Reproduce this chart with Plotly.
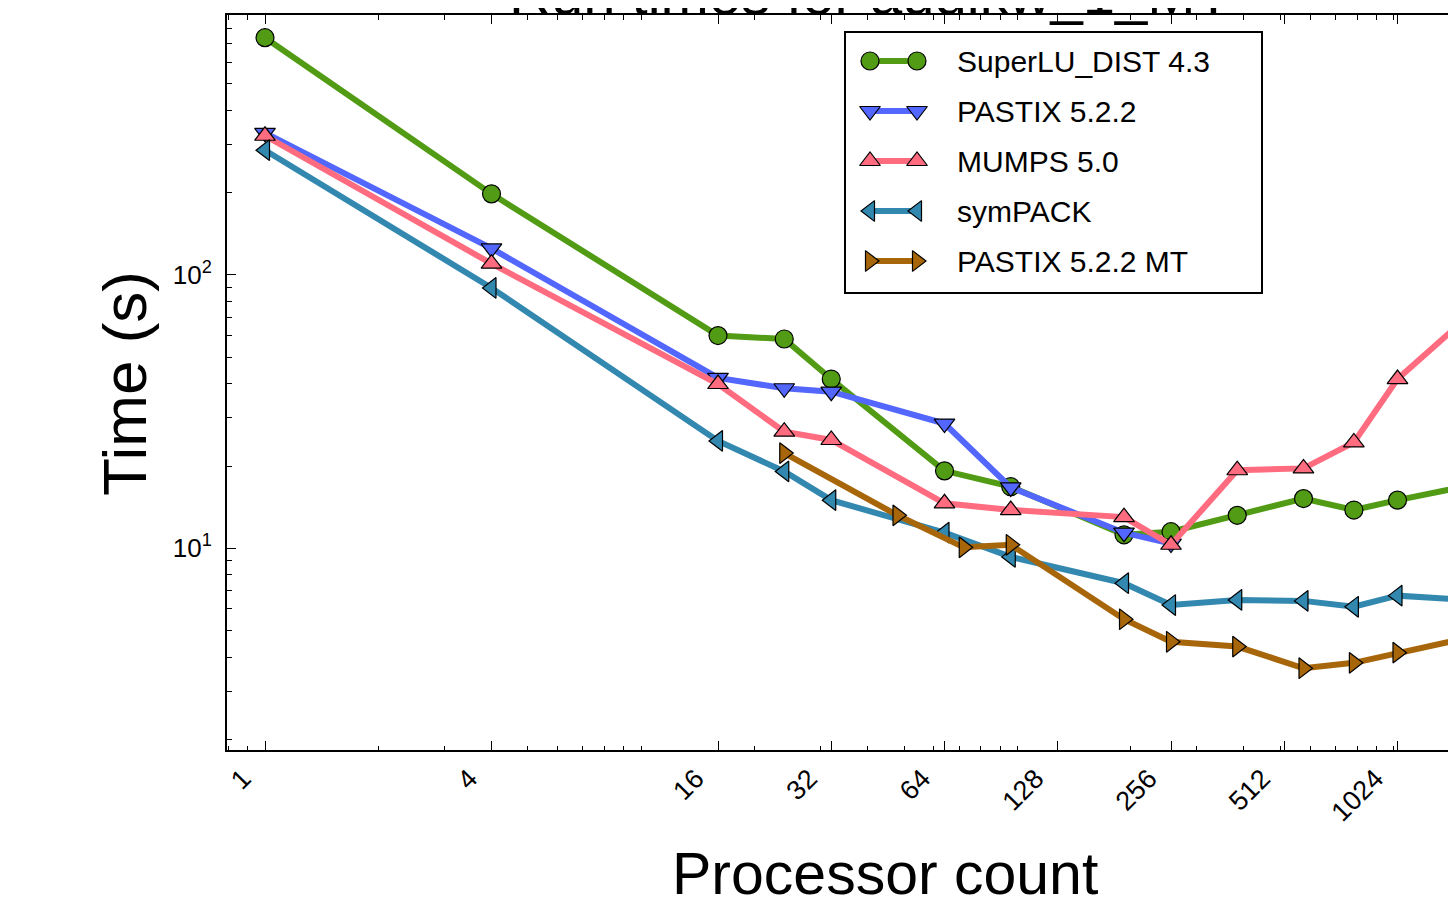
import math
import plotly.graph_objects as go

# ---------------- data ----------------
procs = [1, 4, 16, 24, 32, 64, 96, 192, 256, 384, 576, 784, 1024, 2048]
superlu = [738, 198, 60.0, 58.3, 41.6, 19.2, 16.8, 11.2, 11.5, 13.2, 15.2, 13.8, 15.0, 18.2]

pastix_procs = [1, 4, 16, 24, 32, 64, 96, 192, 256]
pastix = [331, 125, 42.0, 38.5, 37.4, 28.6, 16.7, 11.4, 10.4]

mumps = [323, 110, 39.9, 26.7, 24.9, 14.6, 13.8, 13.0, 10.3, 19.3, 19.6, 24.4, 41.6, 97]
sympack = [286, 89.6, 24.7, 19.1, 15.0, 11.4, 9.3, 7.45, 6.2, 6.47, 6.42, 6.11, 6.71, 6.33]

pastix_mt_procs = [24, 48, 72, 96, 192, 256, 384, 576, 784, 1024, 2048]
pastix_mt = [22.3, 13.2, 10.08, 10.3, 5.5, 4.55, 4.37, 3.64, 3.81, 4.15, 5.09]

series_names = ["SuperLU_DIST 4.3", "PASTIX 5.2.2", "MUMPS 5.0", "symPACK", "PASTIX 5.2.2 MT"]
series_x = [procs, pastix_procs, procs, procs, pastix_mt_procs]
series_y = [superlu, pastix, mumps, sympack, pastix_mt]
colors = ["#519c14", "#5367ff", "#ff6c80", "#3388b0", "#a8660a"]
symbols = ["circle", "triangle-down", "triangle-up", "triangle-left", "triangle-right"]
sizes = [18, 18, 18, 18, 18]

xtick_vals = [1, 4, 16, 32, 64, 128, 256, 512, 1024, 2048]
xtick_text = [str(v) for v in xtick_vals]
ytick_vals = [10, 100]
ytick_text = ["10<sup>1</sup>", "10<sup>2</sup>"]

FONT = "Liberation Sans"

# ---------------- geometry (page has an 8px body margin) ----------------
OFF = 8
W, H = 1456 - OFF, 902 - OFF
PX_L, PX_R, PX_T, PX_B = 227, 1456, 15, 750      # plot area in window pixels
L, R, T = PX_L - OFF, W - (PX_R - OFF), PX_T - OFF
B = H - (PX_B - OFF)

def px_to_paper_x(px):
    return (px - PX_L) / (PX_R - PX_L)

def px_to_paper_y(py):
    return (PX_B - py) / (PX_B - PX_T)

fig = go.Figure()
for name, xs, ys, c, s, sz in zip(series_names, series_x, series_y, colors, symbols, sizes):
    fig.add_trace(go.Scatter(
        x=xs, y=ys, mode="lines+markers", name=name, showlegend=False,
        line=dict(color=c, width=6),
        marker=dict(symbol=s, size=sz, color=c, line=dict(color="black", width=1.2)),
    ))

# manual legend drawn on a pixel-scaled overlay axis
leg_x0, leg_x1, leg_y0, leg_y1 = 845, 1262, 32, 293
row0, row_step = 61, 50
for i, (name, c, s, sz) in enumerate(zip(series_names, colors, symbols, sizes)):
    yy = row0 + i * row_step
    fig.add_trace(go.Scatter(
        x=[870, 917], y=[yy, yy], xaxis="x2", yaxis="y2", mode="lines+markers",
        showlegend=False, hoverinfo="skip",
        line=dict(color=c, width=6),
        marker=dict(symbol=s, size=sz, color=c, line=dict(color="black", width=1.2)),
    ))
    fig.add_annotation(x=955, y=yy, xref="x2", yref="y2", text=name, showarrow=False,
                       xanchor="left", yanchor="middle",
                       font=dict(family=FONT, size=30, color="black"))
fig.add_shape(type="rect", xref="x2", yref="y2", x0=leg_x0, x1=leg_x1, y0=leg_y0, y1=leg_y1,
              line=dict(color="black", width=2), fillcolor="white", layer="below")

# title (partially cut at top like the reference)
fig.add_annotation(text="Run times for audikw_1_MT", xref="paper", yref="paper",
                   x=px_to_paper_x(870), y=px_to_paper_y(-7), showarrow=False,
                   xanchor="center", yanchor="middle",
                   font=dict(family=FONT, size=58, color="black"))
# axis titles
fig.add_annotation(text="Processor count", xref="paper", yref="paper",
                   x=px_to_paper_x(885), y=px_to_paper_y(874), showarrow=False,
                   xanchor="center", yanchor="middle",
                   font=dict(family=FONT, size=59, color="black"))
fig.add_annotation(text="Time (s)", xref="paper", yref="paper", textangle=-90,
                   x=px_to_paper_x(124), y=px_to_paper_y(384), showarrow=False,
                   xanchor="center", yanchor="middle",
                   font=dict(family=FONT, size=62, color="black"))

l2 = math.log10(2)
xr = [(PX_L - 265) / 113.25 * l2, (PX_R - 265) / 113.25 * l2]
yr = [0.262, 2.951]

fig.update_layout(
    width=W, height=H,
    margin=dict(l=L, r=R, t=T, b=B, pad=0),
    paper_bgcolor="white", plot_bgcolor="white",
    font=dict(family=FONT, color="black"),
    showlegend=False,
    xaxis=dict(
        type="log", range=xr, tickmode="array", tickvals=xtick_vals, ticktext=xtick_text,
        tickangle=-45, ticks="inside", ticklen=9, tickwidth=1, tickcolor="black",
        showline=True, linewidth=2, linecolor="black", mirror="ticks",
        showgrid=False, zeroline=False, tickfont=dict(size=27, family=FONT),
        ticklabelshift=-22,
        minor=dict(ticks="inside", ticklen=4.5, tickwidth=1, tickcolor="black",
                   dtick="D1", showgrid=False),
    ),
    yaxis=dict(
        type="log", range=yr, tickmode="array", tickvals=ytick_vals, ticktext=ytick_text,
        ticks="inside", ticklen=9, tickwidth=1, tickcolor="black",
        showline=True, linewidth=2, linecolor="black", mirror=False,
        showgrid=False, zeroline=False, tickfont=dict(size=26, family=FONT),
        ticklabelstandoff=8,
        minor=dict(ticks="inside", ticklen=4.5, tickwidth=1, tickcolor="black",
                   dtick="D1", showgrid=False),
    ),
    xaxis2=dict(overlaying="x", anchor="y2", range=[PX_L, PX_R], visible=False, fixedrange=True),
    yaxis2=dict(overlaying="y", anchor="x2", range=[PX_B, PX_T], visible=False, fixedrange=True),
)

fig.write_html("out.html")
